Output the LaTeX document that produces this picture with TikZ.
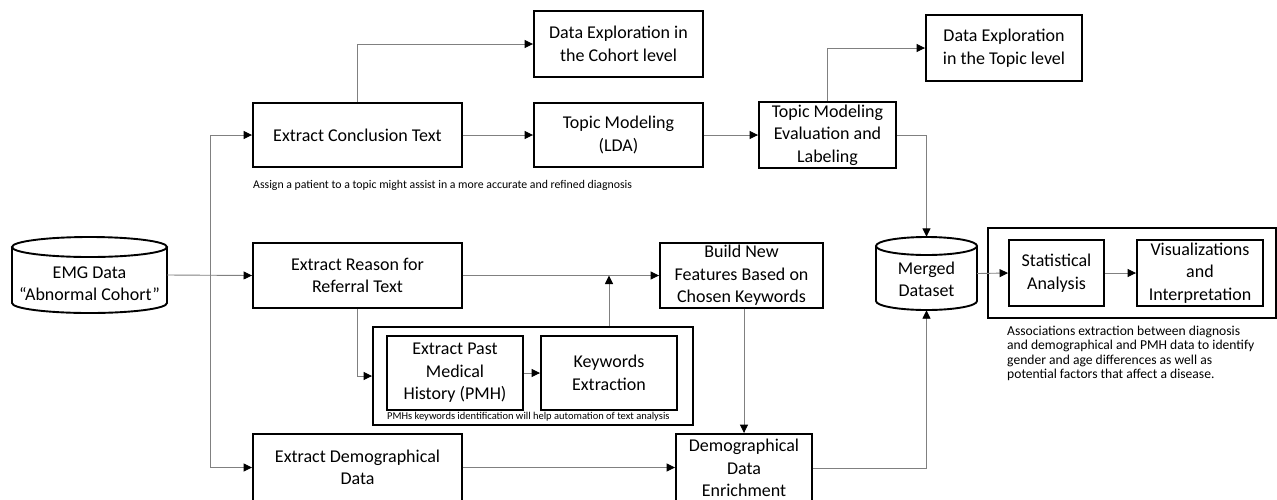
\documentclass[tikz,border=0pt]{standalone}
\usepackage{fontspec}
\setmainfont{Carlito}
\usetikzlibrary{arrows.meta,calc}

\tikzset{
  box/.style={draw=black, line width=1.9pt, fill=white, inner sep=0pt, align=center,
              font=\fontsize{18}{22.5}\selectfont},
  frame/.style={draw=black, line width=1.9pt, inner sep=0pt},
  dbline/.style={draw=black, line width=1.9pt},
  dbtext/.style={inner sep=0pt, align=center, font=\fontsize{18}{22}\selectfont},
  conn/.style={draw={rgb,255:red,128;green,128;blue,128}, line width=0.9pt,
               -{Triangle[length=8.5pt,width=8pt,color=black]}},
  note/.style={inner sep=0pt, align=left},
}

\begin{document}
\begin{tikzpicture}[x=1pt,y=-1pt]
\useasboundingbox (0,0) rectangle (1277,499);
\clip (0,0) rectangle (1277,499);
\fill[white] (0,0) rectangle (1277,499);

% ---- source database ----
\node[inner sep=0pt, minimum width=155, minimum height=76] (emg) at (89.5,275) {};
\draw[dbline, fill=white] (12,247) -- (12,303)
  arc[start angle=180, end angle=0, x radius=77.5, y radius=10] -- (167,247);
\draw[dbline] (89.5,247) ellipse[x radius=77.5, y radius=10];
\node[dbtext] (emgtext) at (89.5,284) {EMG Data\\“Abnormal Cohort”};

% ---- conclusion branch ----
\node[box, minimum width=209, minimum height=64] (conc) at (357.5,135) {Extract Conclusion Text};
\node[box, minimum width=169, minimum height=66] (cohort) at (618.5,44) {Data Exploration in\\the Cohort level};
\node[box, minimum width=169, minimum height=64] (lda) at (618.5,135) {Topic Modeling\\(LDA)};
\node[box, minimum width=137, minimum height=66] (eval) at (827.5,135) {Topic Modeling\\Evaluation and\\Labeling};
\node[box, minimum width=156, minimum height=66] (topicexp) at (1004,48) {Data Exploration\\in the Topic level};
\node[note, anchor=base west, font=\fontsize{11.8}{13}\selectfont] (concnote) at (253,188.5)
  {Assign a patient to a topic might assist in a more accurate and refined diagnosis};

% ---- referral branch ----
\node[box, minimum width=209, minimum height=65] (reason) at (357.5,275.5) {Extract Reason for\\Referral Text};
\node[box, minimum width=163, minimum height=65] (build) at (741.5,275.5) {Build New\\Features Based on\\Chosen Keywords};
\node[frame, minimum width=320, minimum height=98] (pmhbox) at (533,376) {};
\node[box, minimum width=136, minimum height=74] (pmh) at (455,373) {Extract Past\\Medical\\History (PMH)};
\node[box, minimum width=136, minimum height=74] (kw) at (609,373) {Keywords\\Extraction};
\node[note, anchor=base west, font=\fontsize{10.5}{12}\selectfont] (pmhnote) at (387,419)
  {PMHs keywords identification will help automation of text analysis};

% ---- demographic branch ----
\node[box, minimum width=209, minimum height=67] (demo) at (357.5,467.5) {Extract Demographical\\Data};
\node[box, minimum width=136, minimum height=68] (enrich) at (744,468) {Demographical\\Data\\Enrichment};

% ---- merged dataset ----
\node[inner sep=0pt, minimum width=101, minimum height=73] (merged) at (926.5,273.5) {};
\draw[dbline, fill=white] (876,246) -- (876,301)
  arc[start angle=180, end angle=0, x radius=50.5, y radius=9] -- (977,246);
\draw[dbline] (926.5,246) ellipse[x radius=50.5, y radius=9];
\node[dbtext] (mergedtext) at (926.5,279) {Merged\\Dataset};

% ---- analysis ----
\node[frame, minimum width=288, minimum height=90] (anabox) at (1132,273) {};
\node[box, minimum width=95, minimum height=66] (stat) at (1056.5,273) {Statistical\\Analysis};
\node[box, minimum width=126, minimum height=66] (vis) at (1200,273) {Visualizations\\and\\Interpretation};
\node[note, anchor=north west, font=\fontsize{13.6}{14.6}\selectfont] (ananote) at (1007,325.5)
  {Associations extraction between diagnosis\\and demographical and PMH data to identify\\gender and age differences as well as\\potential factors that affect a disease.};

% ---- connectors ----
\coordinate (split) at (210,275.5);
\draw[conn] (emg.east) -- (reason.west);
\draw[conn] (split) |- (conc.west);
\draw[conn] (split) |- (demo.west);

\draw[conn] (conc.east) -- (lda.west);
\draw[conn] (conc.north) |- (cohort.west);
\draw[conn] (lda.east) -- (eval.west);
\draw[conn] (eval.north) |- (topicexp.west);
\draw[conn] (eval.east) -| (merged.north);

\draw[conn] (reason.east) -- (build.west);
\draw[conn] (reason.south) |- (pmhbox.west);
\draw[conn] (pmh.east) -- (kw.west);
\draw[conn] (kw.center |- pmhbox.north) -- (kw.center |- reason.east);
\draw[conn] (enrich.north |- build.south) -- (enrich.north);

\draw[conn] (demo.east) -- (demo.east -| enrich.west);
\draw[conn] (enrich.east) -| (merged.south);

\draw[conn] (merged.east) -- (stat.west);
\draw[conn] (stat.east) -- (vis.west);
\end{tikzpicture}
\end{document}
